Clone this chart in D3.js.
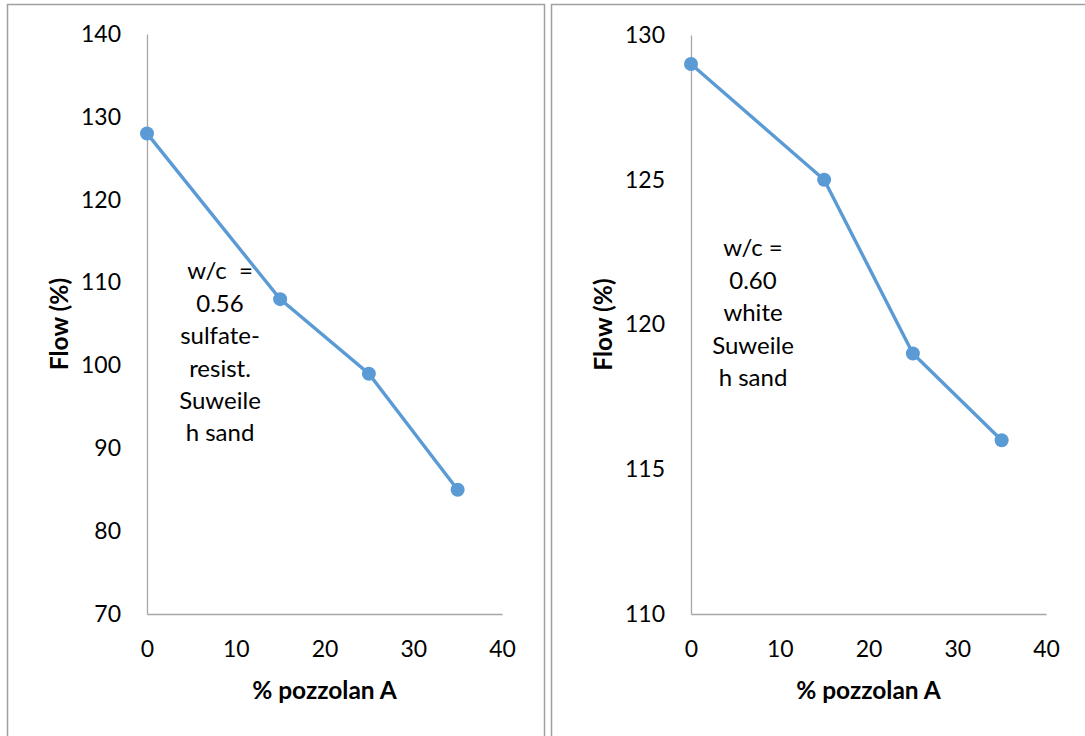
<!DOCTYPE html>
<html>
<head>
<meta charset="utf-8">
<script src="https://cdn.jsdelivr.net/npm/d3@7"></script>
<style>
  body { margin: 0; background: #fff; }
  svg text { font-family: Lato, "Open Sans", sans-serif; fill: #000; }
</style>
</head>
<body>
<div id="chart"></div>
<script>
// Page size
var w = 1085;
var h = 736;

// Data
var pozzolan = [0, 15, 25, 35];
var flowLeft = [128, 108, 99, 85];
var flowRight = [129, 125, 119, 116];
var xTicks = [0, 10, 20, 30, 40];
var yTicksLeft = [70, 80, 90, 100, 110, 120, 130, 140];
var yTicksRight = [110, 115, 120, 125, 130];
var noteLeft = ["w/c  =", "0.56", "sulfate-", "resist.", "Suweile", "h sand"];
var noteRight = ["w/c =", "0.60", "white", "Suweile", "h sand"];

var svg = d3.select('#chart').append('svg')
  .attr('width', w)
  .attr('height', h);

var panels = [
  { box: [7, 4, 537, 760], x0: 147, x1: 502, yTop: 34, yBot: 614,
    yDom: [70, 140], yTicks: yTicksLeft, values: flowLeft,
    note: noteLeft, noteX: 220, noteY: 271, yTitleX: 59 },
  { box: [551, 4, 560, 760], x0: 691, x1: 1046, yTop: 35, yBot: 614,
    yDom: [110, 130], yTicks: yTicksRight, values: flowRight,
    note: noteRight, noteX: 753, noteY: 248, yTitleX: 603 }
];

panels.forEach(function(p) {
  var g = svg.append('g');

  // panel border
  g.append('rect')
    .attr('x', p.box[0] + 0.5).attr('y', p.box[1] + 0.5)
    .attr('width', p.box[2]).attr('height', p.box[3])
    .attr('fill', 'none')
    .attr('stroke', '#a0a0a0')
    .attr('stroke-width', 1.5);

  var x = d3.scaleLinear().domain([0, 40]).range([p.x0, p.x1]);
  var y = d3.scaleLinear().domain(p.yDom).range([p.yBot, p.yTop]);

  // axes
  var xAxis = g.append('g')
    .attr('transform', 'translate(0,' + p.yBot + ')')
    .call(d3.axisBottom(x).tickValues(xTicks).tickSize(0).tickPadding(31));
  var yAxis = g.append('g')
    .attr('transform', 'translate(' + p.x0 + ',0)')
    .call(d3.axisLeft(y).tickValues(p.yTicks).tickSize(0).tickPadding(26));

  [xAxis, yAxis].forEach(function(a) {
    a.select('.domain').attr('stroke', '#a6a6a6').attr('stroke-width', 1.3);
    a.selectAll('text')
      .style('font-family', 'Lato, "Open Sans", sans-serif')
      .style('font-size', '23px')
      .attr('fill', '#000');
  });
  xAxis.selectAll('text').attr('dy', '0.5em');

  // series
  var line = d3.line()
    .x(function(d, i) { return x(pozzolan[i]); })
    .y(function(d) { return y(d); });

  g.append('path')
    .datum(p.values)
    .attr('d', line)
    .attr('fill', 'none')
    .attr('stroke', '#5b9bd5')
    .attr('stroke-width', 3.4);

  g.selectAll('circle.pt')
    .data(p.values)
    .enter().append('circle')
    .attr('class', 'pt')
    .attr('cx', function(d, i) { return x(pozzolan[i]); })
    .attr('cy', function(d) { return y(d); })
    .attr('r', 7)
    .attr('fill', '#5b9bd5');

  // axis titles
  g.append('text')
    .attr('transform', 'translate(' + p.yTitleX + ',' + ((p.yTop + p.yBot) / 2) + ') rotate(-90)')
    .attr('text-anchor', 'middle')
    .attr('dy', '0.35em')
    .style('font-size', '24.5px')
    .style('font-weight', 'bold')
    .text('Flow (%)');

  g.append('text')
    .attr('x', (p.x0 + p.x1) / 2)
    .attr('y', 690)
    .attr('text-anchor', 'middle')
    .attr('dy', '0.35em')
    .style('font-size', '24.5px')
    .style('font-weight', 'bold')
    .text('% pozzolan A');

  // note text
  g.append('text')
    .attr('text-anchor', 'middle')
    .style('font-size', '24px')
    .selectAll('tspan')
    .data(p.note)
    .enter().append('tspan')
    .attr('x', p.noteX)
    .attr('y', function(d, i) { return p.noteY + i * 32.4; })
    .attr('dy', '0.35em')
    .style('white-space', 'pre')
    .text(function(d) { return d; });
});
</script>
</body>
</html>
